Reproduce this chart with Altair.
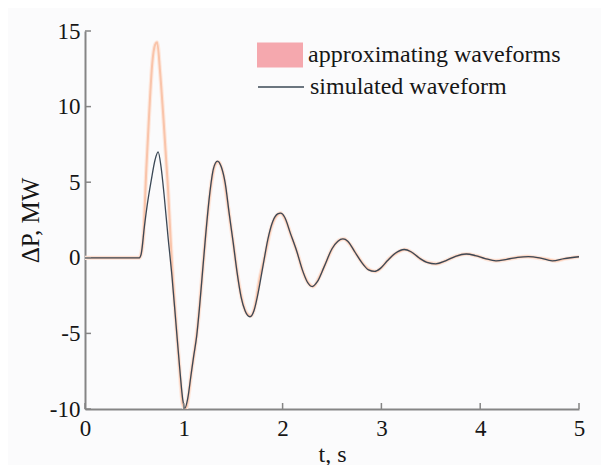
import altair as alt
import pandas as pd

# ---- data ----
t_sim = [0.00, 0.55, 0.57, 0.60, 0.63, 0.67, 0.71, 0.74, 0.77, 0.80, 0.84, 0.88, 0.92, 0.96, 0.99,
         1.01, 1.04, 1.07, 1.10, 1.13, 1.16, 1.19, 1.22, 1.26, 1.30, 1.34, 1.38, 1.42, 1.46, 1.50,
         1.54, 1.58, 1.62, 1.67, 1.71, 1.75, 1.80, 1.85, 1.90, 1.95, 1.98, 2.02, 2.08, 2.14, 2.20,
         2.25, 2.30, 2.35, 2.42, 2.50, 2.56, 2.61, 2.66, 2.73, 2.80, 2.87, 2.93, 2.99, 3.06, 3.14,
         3.23, 3.30, 3.38, 3.46, 3.55, 3.65, 3.75, 3.86, 3.95, 4.05, 4.16, 4.27, 4.38, 4.49, 4.60,
         4.73, 4.85, 5.00]
v_sim = [0, 0, 0.3, 2.0, 3.5, 5.1, 6.5, 7.0, 6.0, 4.2, 1.4, -1.2, -4.3, -7.4, -9.4,
         -9.95, -9.3, -7.9, -6.5, -5.2, -3.2, -0.9, 1.4, 4.1, 5.9, 6.4, 6.0, 4.9, 2.9, 1.0,
         -1.0, -2.6, -3.5, -3.9, -3.5, -2.4, -0.6, 1.2, 2.4, 2.9, 2.95, 2.7, 1.6, 0.5, -0.8,
         -1.6, -1.9, -1.6, -0.6, 0.6, 1.1, 1.25, 1.1, 0.4, -0.3, -0.8, -0.9, -0.7, -0.2, 0.3,
         0.55, 0.4, 0.0, -0.3, -0.4, -0.2, 0.1, 0.25, 0.15, -0.05, -0.2, -0.1, 0.03, 0.08, 0.0,
         -0.2, -0.05, 0.07]

t_app = [0.00, 0.55, 0.57, 0.59, 0.62, 0.65, 0.68, 0.71, 0.73, 0.76, 0.79, 0.84, 0.88, 0.92, 0.96,
         0.99, 1.02, 1.05, 1.08, 1.11, 1.14, 1.17, 1.20, 1.24, 1.28, 1.32, 1.35, 1.40, 1.45, 1.50,
         1.55, 1.60, 1.64, 1.68, 1.72, 1.77, 1.82, 1.88, 1.93, 1.98, 2.03, 2.09, 2.15, 2.21, 2.27,
         2.31, 2.37, 2.44, 2.51, 2.57, 2.62, 2.68, 2.75, 2.82, 2.88, 2.94, 3.00, 3.08, 3.16, 3.24,
         3.32, 3.40, 3.48, 3.56, 3.66, 3.76, 3.86, 3.96, 4.06, 4.16, 4.27, 4.38, 4.48, 4.58, 4.68,
         4.76, 4.87, 5.00]
v_app = [0, 0, 0.3, 1.3, 5.8, 9.6, 12.8, 14.1, 14.25, 12.3, 9.6, 4.6, -0.4, -4.2, -7.6,
         -9.7, -10.0, -9.0, -7.4, -6.1, -4.5, -2.4, -0.1, 2.75, 5.0, 6.2, 6.35, 5.5, 3.3, 1.0,
         -1.4, -3.05, -3.7, -3.85, -3.2, -1.3, 0.1, 1.9, 2.7, 2.95, 2.5, 1.4, 0.3, -1.0, -1.75,
         -1.9, -1.3, -0.3, 0.7, 1.15, 1.25, 0.9, 0.2, -0.45, -0.8, -0.9, -0.65, -0.05, 0.35, 0.55,
         0.3, -0.1, -0.32, -0.4, -0.17, 0.12, 0.25, 0.13, -0.07, -0.2, -0.1, 0.03, 0.08, 0.0, -0.1,
         -0.2, -0.05, 0.07]

x_ticks = [0, 1, 2, 3, 4, 5]
y_ticks = [-10, -5, 0, 5, 10, 15]
series_names = ["approximating waveforms", "simulated waveform"]

sim_df = pd.DataFrame({"t": t_sim, "v": v_sim, "series": series_names[1]})
app_df = pd.DataFrame({"t": t_app, "v": v_app, "series": series_names[0]})
xt_df = pd.DataFrame({"t": x_ticks})
yt_df = pd.DataFrame({"v": y_ticks})

FONT = "Liberation Serif"
AXIS_COL = "#858585"
TXT = "#161616"

xscale = alt.Scale(domain=[0, 5], nice=False, zero=False)
yscale = alt.Scale(domain=[-10, 15], nice=False, zero=False)

x_axis = alt.Axis(values=x_ticks, title="t, s", ticks=False, grid=False, labelFlush=False,
                  labelOverlap=False, labelPadding=8, titlePadding=2,
                  domainColor=AXIS_COL, domainWidth=2,
                  labelFont=FONT, labelFontSize=23, labelColor=TXT,
                  titleFont=FONT, titleFontSize=24, titleFontWeight="normal", titleColor=TXT,
                  labelExpr="'' + datum.value")
y_axis = alt.Axis(values=y_ticks, title="ΔP, MW", ticks=False, grid=False, labelFlush=False,
                  labelOverlap=False, labelPadding=5, titlePadding=6,
                  domainColor=AXIS_COL, domainWidth=2,
                  labelFont=FONT, labelFontSize=23, labelColor=TXT,
                  titleFont=FONT, titleFontSize=25, titleFontWeight="normal", titleColor=TXT,
                  labelExpr="'' + datum.value")

halo = alt.Chart(app_df).mark_line(color="#fde8de", strokeWidth=4.2, interpolate="monotone",
                                   clip=True).encode(
    x=alt.X("t:Q", scale=xscale, axis=x_axis),
    y=alt.Y("v:Q", scale=yscale, axis=y_axis),
)
core = alt.Chart(app_df).mark_line(color="#f9c4aa", strokeWidth=2.0, interpolate="monotone",
                                   clip=True).encode(x="t:Q", y="v:Q")

sim = alt.Chart(sim_df).mark_line(strokeWidth=1.3, interpolate="monotone", clip=True).encode(
    x="t:Q", y="v:Q",
    stroke=alt.Stroke("series:N",
                      scale=alt.Scale(domain=[series_names[1]], range=["#3b4856"]),
                      legend=alt.Legend(title=None, orient="none", legendX=172, legendY=32,
                                        symbolType="stroke", symbolSize=2116,
                                        symbolStrokeWidth=1.3, labelOffset=5, padding=0,
                                        labelFont=FONT, labelFontSize=24, labelColor=TXT,
                                        labelLimit=400)),
)

box_path = "M-1,-0.54H1V0.54H-1Z"
leg_a = alt.Chart(app_df).transform_filter("false").mark_point(filled=True, shape=box_path).encode(
    x="t:Q", y="v:Q",
    fill=alt.Fill("series:N",
                  scale=alt.Scale(domain=[series_names[0]], range=["#f5a8ae"]),
                  legend=alt.Legend(title=None, orient="none", legendX=172, legendY=1,
                                    symbolType=box_path, symbolSize=2116, symbolStrokeWidth=0,
                                    symbolOpacity=1, labelOffset=5, padding=0,
                                    labelFont=FONT, labelFontSize=24, labelColor=TXT,
                                    labelLimit=400)),
)

xt = alt.Chart(xt_df).mark_rule(color=AXIS_COL, strokeWidth=1.5).encode(
    x="t:Q", y=alt.value(378), y2=alt.value(372))
yt = alt.Chart(yt_df).mark_rule(color=AXIS_COL, strokeWidth=1.5).encode(
    y="v:Q", x=alt.value(0), x2=alt.value(6))

chart = alt.layer(halo, core, sim, xt, yt, leg_a).properties(
    width=494, height=378,
    padding={"left": 77, "top": 23, "right": 22, "bottom": 56},
    autosize=alt.AutoSizeParams(type="none"),
    background="#fbfbfc",
).configure_view(stroke=None)

chart.save("out.html", embed_options={"renderer": "svg", "actions": False})
